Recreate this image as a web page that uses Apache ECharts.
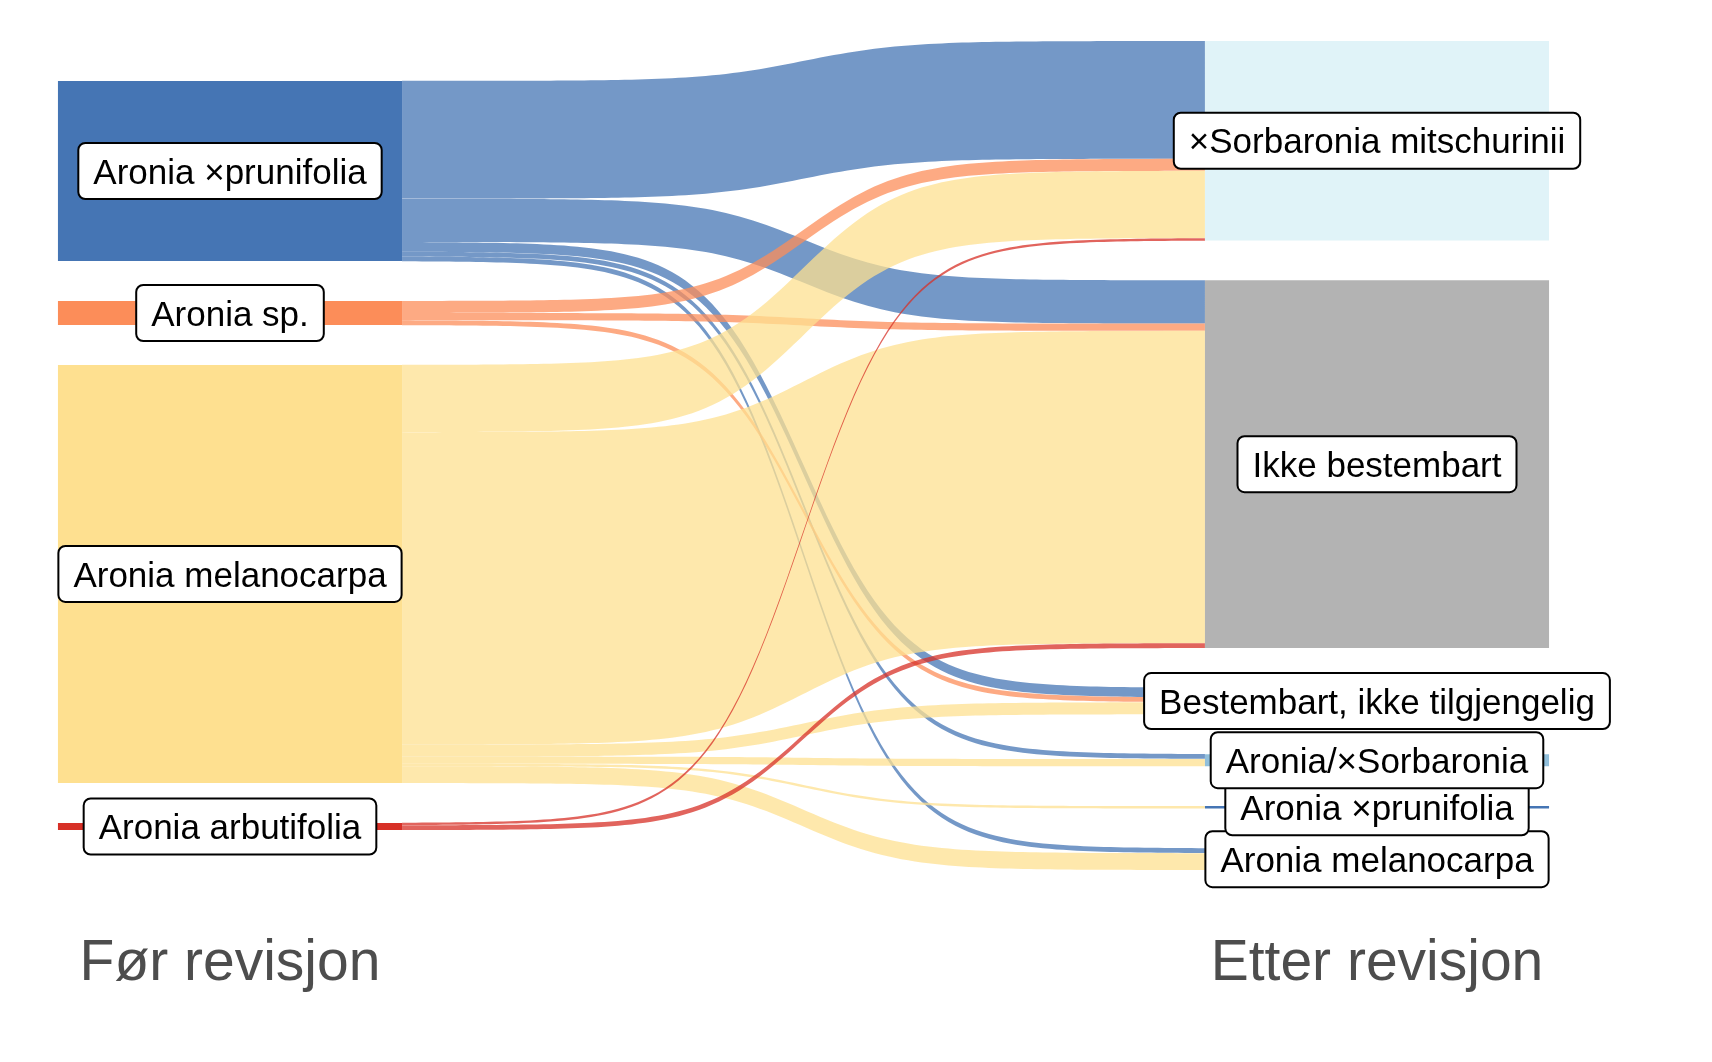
<!DOCTYPE html>
<html><head><meta charset="utf-8">
<script src="https://cdn.jsdelivr.net/npm/echarts@6/dist/echarts.min.js"></script>
<style>html,body{margin:0;padding:0;background:#fff}#c{width:1712px;height:1062px}</style>
</head><body><div id="c"></div>
<script>
// ---- data ----
const axisNames = ['Før revisjon', 'Etter revisjon'];
const leftNodes = ['Aronia ×prunifolia', 'Aronia sp.', 'Aronia melanocarpa', 'Aronia arbutifolia'];
const rightNodes = ['×Sorbaronia mitschurinii', 'Ikke bestembart', 'Bestembart, ikke tilgjengelig', 'Aronia/×Sorbaronia', 'Aronia ×prunifolia', 'Aronia melanocarpa'];
// flows: index into leftNodes -> index into rightNodes, with counts
const flowFrom  = [0, 0, 0, 0, 0, 1, 1, 1, 2, 2, 2, 2, 2, 2, 3, 3];
const flowTo    = [0, 1, 2, 3, 5, 0, 1, 2, 0, 1, 2, 3, 4, 5, 0, 1];
const flowValue = [49, 18, 4, 2, 2, 5, 3, 2, 28, 130, 5, 3, 1, 7, 1, 2];
const nodeColors = {
  'Aronia ×prunifolia': '#4575b4',
  'Aronia sp.': '#fc8d59',
  'Aronia melanocarpa': '#fee090',
  'Aronia arbutifolia': '#d73027',
  '×Sorbaronia mitschurinii': '#e0f3f8',
  'Aronia/×Sorbaronia': '#91bfdb',
  'Ikke bestembart': '#b3b3b3',
  'Bestembart, ikke tilgjengelig': '#b3b3b3'
};

// ---- layout (ggsankey-like) ----
const NODE_W = 0.3, GAP = 16.6, SMOOTH = 8, FLOW_ALPHA = 0.75, NPTS = 120;
const FONT = "'Liberation Sans', Arial, Helvetica, sans-serif";
const LABEL_SIZE = 35, LABEL_PADX = 15, LABEL_H = 56, TEXT_DY = 3;

function sum(a){return a.reduce((s,v)=>s+v,0);}
const leftTot = leftNodes.map((_,i)=>sum(flowValue.filter((v,k)=>flowFrom[k]===i)));
const rightTot = rightNodes.map((_,j)=>sum(flowValue.filter((v,k)=>flowTo[k]===j)));
const spanL = sum(leftTot) + GAP*(leftNodes.length-1);
const spanR = sum(rightTot) + GAP*(rightNodes.length-1);
const yMax = Math.max(spanL, spanR);

function stack(tots, span){
  let y = (yMax - span)/2; const out = [];
  tots.forEach(t=>{ out.push([y, y+t]); y += t + GAP; });
  return out;
}
const leftPos = stack(leftTot, spanL);
const rightPos = stack(rightTot, spanR);

const nodes = [];
leftNodes.forEach((n,i)=>nodes.push({name:n, x:1, y0:leftPos[i][0], y1:leftPos[i][1], color:nodeColors[n], z:5}));
rightNodes.forEach((n,j)=>nodes.push({name:n, x:2, y0:rightPos[j][0], y1:rightPos[j][1], color:nodeColors[n], z:20-j}));

// flow slots
const outCur = leftPos.map(p=>p[0]);
const inCur = rightPos.map(p=>p[0]);
const flows = flowValue.map((v,k)=>{
  const a = outCur[flowFrom[k]]; outCur[flowFrom[k]] += v;
  const b = inCur[flowTo[k]]; inCur[flowTo[k]] += v;
  return {l0:a, l1:a+v, r0:b, r1:b+v, color:nodeColors[leftNodes[flowFrom[k]]]};
});

function sig(t){ const s = -SMOOTH + 2*SMOOTH*t; return 1/(1+Math.exp(-s)); }

const mctx = document.createElement('canvas').getContext('2d');
mctx.font = LABEL_SIZE + 'px ' + FONT;

const chart = echarts.init(document.getElementById('c'), null, {renderer:'canvas'});
chart.setOption({
  backgroundColor:'#ffffff',
  animation:false,
  grid:{left:230, right:335, top:41, bottom:192},
  xAxis:{type:'value', min:1, max:2, interval:1,
    axisLine:{show:false}, axisTick:{show:false}, splitLine:{show:false},
    axisLabel:{fontSize:57, color:'#4d4d4d', margin:66, fontFamily:FONT,
      formatter:v=> v===1 ? axisNames[0] : (v===2 ? axisNames[1] : '')}},
  yAxis:{type:'value', min:0, max:yMax, inverse:true, show:false},
  series:[
    { type:'custom', name:'flows', clip:false, z:1,
      data: flows.map((f,i)=>[1, f.l0, i]),
      renderItem:(params, api)=>{
        const f = flows[params.dataIndex];
        const x0 = 1 + NODE_W/2, x1 = 2 - NODE_W/2;
        const top = [], bot = [];
        for(let i=0;i<NPTS;i++){
          const t = i/(NPTS-1), s = sig(t), x = x0 + t*(x1-x0);
          top.push(api.coord([x, f.l0 + s*(f.r0 - f.l0)]));
          bot.push(api.coord([x, f.l1 + s*(f.r1 - f.l1)]));
        }
        return {type:'polygon', shape:{points: top.concat(bot.reverse())},
          style:{fill:f.color, opacity:FLOW_ALPHA}};
      }},
    { type:'custom', name:'nodes', clip:false, z:2,
      data: nodes.map((n,i)=>[n.x, n.y0, i]),
      renderItem:(params, api)=>{
        const n = nodes[params.dataIndex];
        const p0 = api.coord([n.x - NODE_W/2, n.y0]);
        const p1 = api.coord([n.x + NODE_W/2, n.y1]);
        return {type:'rect', shape:{x:p0[0], y:p0[1], width:p1[0]-p0[0], height:p1[1]-p0[1]},
          style:{fill:n.color}};
      }},
    { type:'custom', name:'labels', clip:false, z:3,
      data: nodes.map((n,i)=>[n.x, (n.y0+n.y1)/2, i]),
      renderItem:(params, api)=>{
        const n = nodes[params.dataIndex];
        const p = api.coord([n.x, (n.y0+n.y1)/2]);
        const w = mctx.measureText(n.name).width + 2*LABEL_PADX;
        return {type:'group', children:[
          {type:'rect', z2:n.z*2,
            shape:{x:p[0]-w/2, y:p[1]-LABEL_H/2, width:w, height:LABEL_H, r:7},
            style:{fill:'#fff', stroke:'#000', lineWidth:2}},
          {type:'text', x:p[0], y:p[1]+TEXT_DY, z2:n.z*2+1,
            style:{text:n.name, fontSize:LABEL_SIZE, fontFamily:FONT, fill:'#000',
              align:'center', verticalAlign:'middle'}}
        ]};
      }}
  ]
});
</script></body></html>
